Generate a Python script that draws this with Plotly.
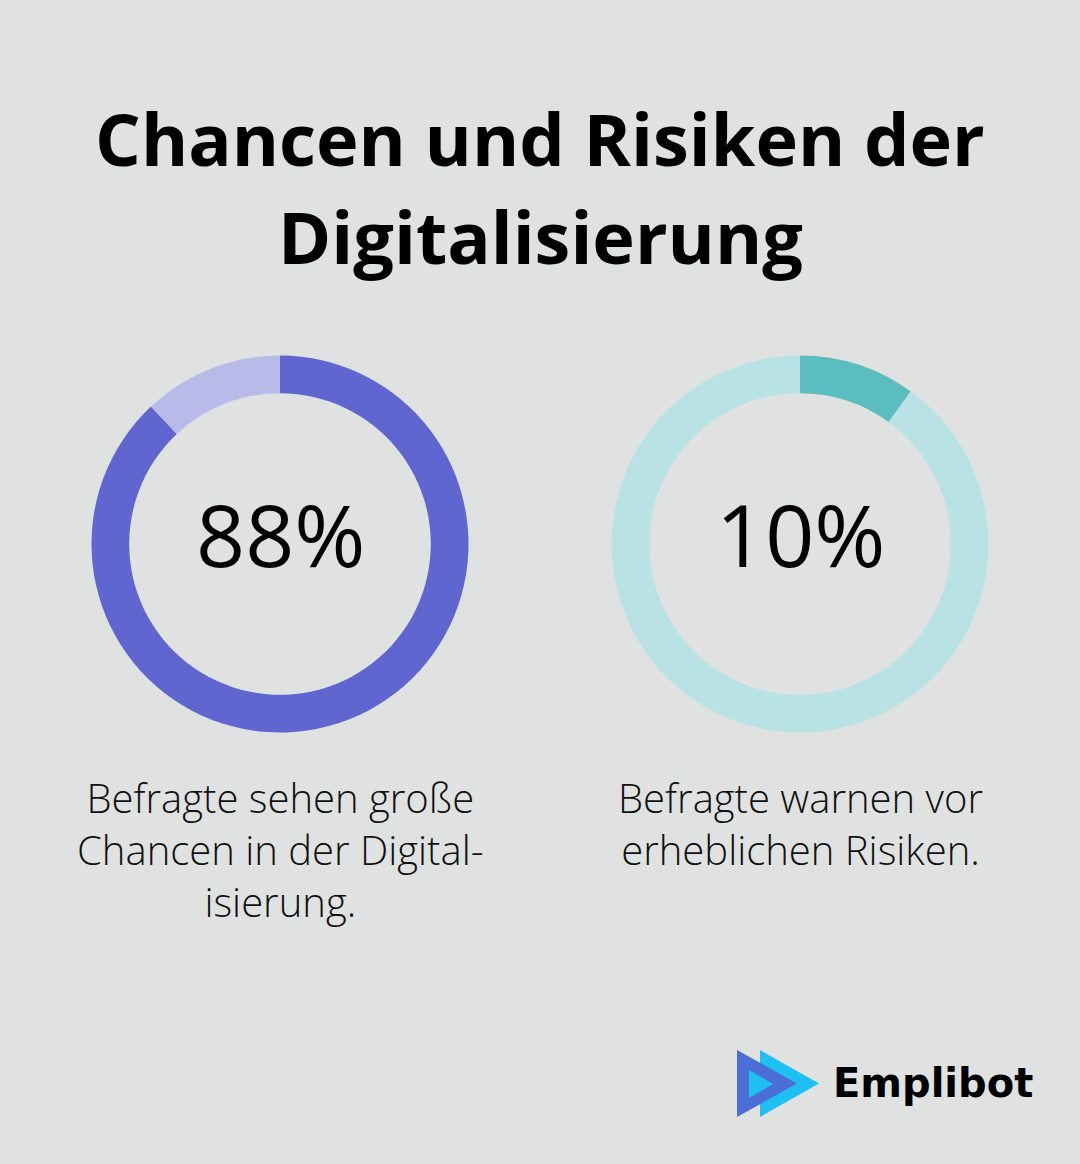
import plotly.graph_objects as go

# ---- data ----
title_lines = ["Chancen und Risiken der", "Digitalisierung"]
labels_left = ["Chancen", "Rest"]
values_left = [88, 12]
labels_right = ["Risiken", "Rest"]
values_right = [10, 90]
center_texts = ["88%", "10%"]
captions = [
    "Befragte sehen große<br>Chancen in der Digital-<br>isierung.",
    "Befragte warnen vor<br>erheblichen Risiken.",
]
brand = "Emplibot"

# ---- styles ----
W, H = 1080, 1164
BG = "#E0E2E1"
colors_left = ["#5F66CF", "#B8BBE9"]
colors_right = ["#5BBDBF", "#B9E2E4"]


def px_x(x):
    return x / W


def px_y(y):
    return 1 - y / H


fig = go.Figure()

pie_common = dict(
    hole=0.80,
    sort=False,
    direction="clockwise",
    rotation=0,
    textinfo="none",
    hoverinfo="skip",
    showlegend=False,
)

fig.add_trace(go.Pie(
    labels=labels_left, values=values_left,
    marker=dict(colors=colors_left, line=dict(width=0)),
    domain=dict(x=[px_x(91.5), px_x(468.5)], y=[px_y(732.5), px_y(355.5)]),
    **pie_common
))
fig.add_trace(go.Pie(
    labels=labels_right, values=values_right,
    marker=dict(colors=colors_right, line=dict(width=0)),
    domain=dict(x=[px_x(611.5), px_x(988.5)], y=[px_y(732.5), px_y(355.5)]),
    **pie_common
))

annotations = []
# title
for line, yc in zip(title_lines, [138, 236]):
    annotations.append(dict(
        text=line, x=0.5, y=px_y(yc), xref="paper", yref="paper",
        xanchor="center", yanchor="middle", showarrow=False,
        font=dict(family="Open Sans", size=72, color="#000000", weight=700),
    ))

# center numbers
for txt, xc in zip(center_texts, [280, 800]):
    annotations.append(dict(
        text=txt, x=px_x(xc), y=px_y(534), xref="paper", yref="paper",
        xanchor="center", yanchor="middle", showarrow=False,
        font=dict(family="Open Sans", size=86, color="#000000", weight=500),
    ))

# captions
for txt, xc in zip(captions, [280, 800]):
    annotations.append(dict(
        text=txt, x=px_x(xc), y=px_y(768), xref="paper", yref="paper",
        xanchor="center", yanchor="top", showarrow=False, align="center",
        font=dict(family="Open Sans", size=40, color="#111111", weight=300),
    ))

# brand name
annotations.append(dict(
    text=brand, x=px_x(831), y=px_y(1083), xref="paper", yref="paper",
    xanchor="left", yanchor="middle", showarrow=False,
    font=dict(family="DejaVu Sans", size=40, color="#000000", weight=700),
))

# logo triangles
def tri(x0, y0, y1, xa, ya):
    return f"M {px_x(x0)} {px_y(y0)} L {px_x(x0)} {px_y(y1)} L {px_x(xa)} {px_y(ya)} Z"

shapes = [
    dict(type="path", xref="paper", yref="paper", path=tri(760, 1050, 1117, 819, 1083.5),
         fillcolor="#1EC0F2", line=dict(width=0)),
    dict(type="path", xref="paper", yref="paper", path=tri(737, 1050, 1117, 797, 1083.5),
         fillcolor="#4A6DD6", line=dict(width=0)),
    dict(type="path", xref="paper", yref="paper", path=tri(749, 1070, 1098, 773, 1084),
         fillcolor="#1EC0F2", line=dict(width=0)),
]

fig.update_layout(
    width=W, height=H,
    margin=dict(l=0, r=0, t=0, b=0),
    paper_bgcolor=BG, plot_bgcolor=BG,
    annotations=annotations,
    shapes=shapes,
    showlegend=False,
)

fig.write_html("out.html", config={"displayModeBar": False})
